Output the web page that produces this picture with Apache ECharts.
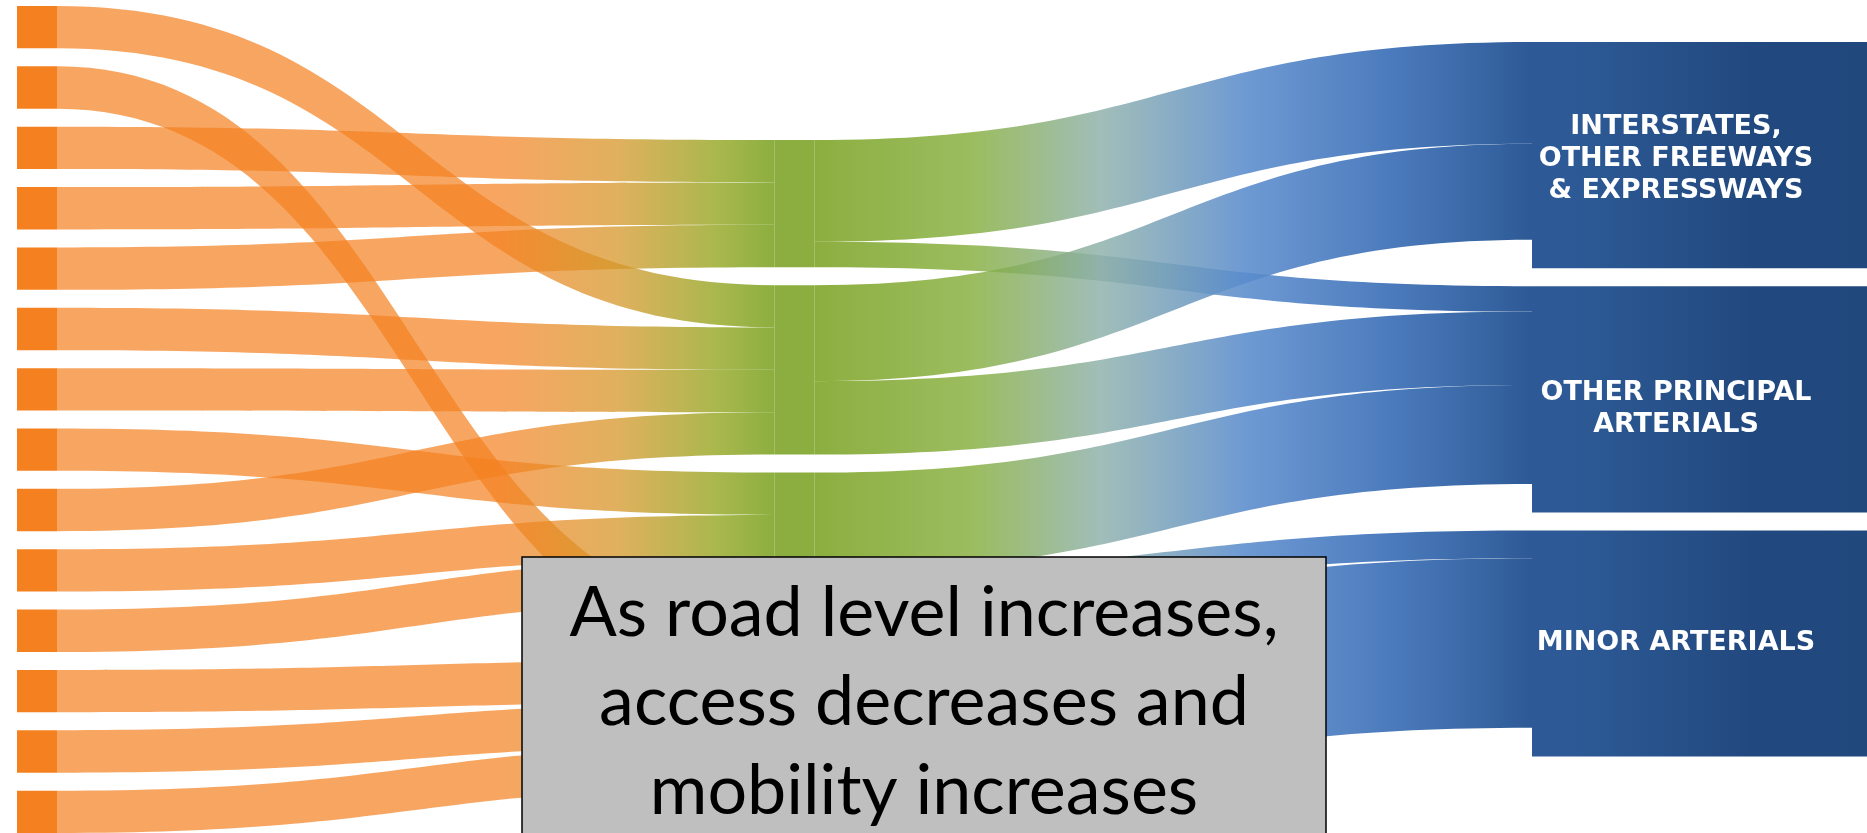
<!DOCTYPE html>
<html>
<head>
<meta charset="utf-8">
<script src="https://cdn.jsdelivr.net/npm/echarts@6/dist/echarts.min.js"></script>
<style>
html,body{margin:0;padding:0;background:#ffffff;}
#chart{width:1867px;height:833px;}
</style>
</head>
<body>
<div id="chart"></div>
<script>
// ---- data ----
const localRoads = ['Local road 1','Local road 2','Local road 3','Local road 4','Local road 5','Local road 6','Local road 7',
                    'Local road 8','Local road 9','Local road 10','Local road 11','Local road 12','Local road 13','Local road 14'];
const collectors = ['Collector 1','Collector 2','Collector 3','Collector 4'];
const arterials = ['INTERSTATES,\nOTHER FREEWAYS\n& EXPRESSWAYS', 'OTHER PRINCIPAL\nARTERIALS', 'MINOR ARTERIALS'];
const localFlow = [1,1,1,1,1,1,1,1,1,1,1,1,1,1];
const localTarget = [1,3,0,0,0,1,1,2,1,2,2,3,3,3];           // collector index for each local road
const collectorSource = [0,0,1,1,2,2,3];
const collectorTarget = [0,1,0,1,1,2,2];
const collectorFlow   = [2.4,0.6,2.27,1.73,2.34,0.66,4.0];
const arterialSize = [5.34,5.34,5.34];
const collectorLead = 2.74;   // invisible lead value above the collector column
const arterialLead = 0.425;   // invisible lead value above the arterial columns
const note = ['As road level increases,', 'access decreases and', 'mobility increases'];

// ---- styles ----
const labelNudge = [4, 10, 0];
const clear = {color:'rgba(0,0,0,0)', borderWidth:0};
const orangeGrad = {type:'linear', x:0, y:0, x2:1, y2:0, colorStops:[
  {offset:0, color:'rgba(244,128,31,0.70)'},
  {offset:0.62, color:'rgba(244,128,31,0.70)'},
  {offset:0.78, color:'rgba(214,150,40,0.75)'},
  {offset:0.92, color:'rgba(150,168,38,0.82)'},
  {offset:1, color:'rgba(120,160,30,0.85)'}]};
const greenBlueGrad = {type:'linear', x:0, y:0, x2:1, y2:0, colorStops:[
  {offset:0, color:'rgba(120,160,30,0.85)'},
  {offset:0.22, color:'rgba(130,172,55,0.80)'},
  {offset:0.40, color:'rgba(140,175,170,0.82)'},
  {offset:0.60, color:'rgba(90,140,205,0.88)'},
  {offset:0.80, color:'rgba(65,115,185,0.94)'},
  {offset:1, color:'rgba(45,90,150,1)'}]};
const navyGrad = {type:'linear', x:0, y:0, x2:1, y2:0, colorStops:[
  {offset:0, color:'#2d5a96'},
  {offset:0.25, color:'#22497f'},
  {offset:1, color:'#1f4678'}]};

const nodes = [];
localRoads.forEach(n => nodes.push({name:n, depth:0, itemStyle:{color:'#f4801f', borderWidth:0}}));
nodes.push({name:'lead-collector', depth:1, value:collectorLead, itemStyle:clear});
collectors.forEach(n => nodes.push({name:n, depth:1, itemStyle:{color:'rgba(120,160,30,0.85)', borderWidth:0}}));
nodes.push({name:'lead-arterial', depth:2, value:arterialLead, itemStyle:clear});
arterials.forEach((n,i) => nodes.push({
  name:n, depth:2, value:arterialSize[i],
  itemStyle:{color:'#2d5a96', borderWidth:0},
  label:{show:true, position:'inside', offset:[124, labelNudge[i]], color:'#ffffff',
         fontFamily:'DejaVu Sans', fontWeight:'bold', fontSize:27, lineHeight:32, align:'center'}
}));
nodes.push({name:'lead-arterial-end', depth:3, value:arterialLead, itemStyle:clear});
arterials.forEach((n,i) => nodes.push({name:'end ' + n, depth:3, value:arterialSize[i], itemStyle:{color:'#1f4678', borderWidth:0}}));

const links = [];
localRoads.forEach((n,i) => links.push({source:n, target:collectors[localTarget[i]], value:localFlow[i], lineStyle:{color:orangeGrad}}));
collectorFlow.forEach((v,i) => links.push({source:collectors[collectorSource[i]], target:arterials[collectorTarget[i]], value:v, lineStyle:{color:greenBlueGrad}}));
arterials.forEach((n,i) => links.push({source:n, target:'end ' + n, value:arterialSize[i], lineStyle:{color:navyGrad}}));

const chart = echarts.init(document.getElementById('chart'), null, {renderer:'canvas'});
chart.setOption({
  backgroundColor:'#ffffff',
  animation:false,
  tooltip:{show:false},
  series:[{
    type:'sankey',
    left:17, top:6, bottom:0, right:-462.5,
    nodeWidth:40, nodeGap:18,
    layoutIterations:0, nodeAlign:'left', draggable:false,
    label:{show:false},
    itemStyle:{borderWidth:0},
    emphasis:{disabled:true},
    lineStyle:{opacity:1, curveness:0.5},
    data:nodes, links:links
  }],
  graphic:[
    {type:'rect', z:100, shape:{x:522, y:557, width:804, height:300},
     style:{fill:'#bfbfbf', stroke:'#000000', lineWidth:1.5}},
    {type:'text', z:101, x:924, y:569,
     style:{text:note.join('\n'), fontFamily:'Lato', fontSize:70, lineHeight:89,
            fill:'#000000', align:'center', verticalAlign:'top'}}
  ]
});
</script>
</body>
</html>
